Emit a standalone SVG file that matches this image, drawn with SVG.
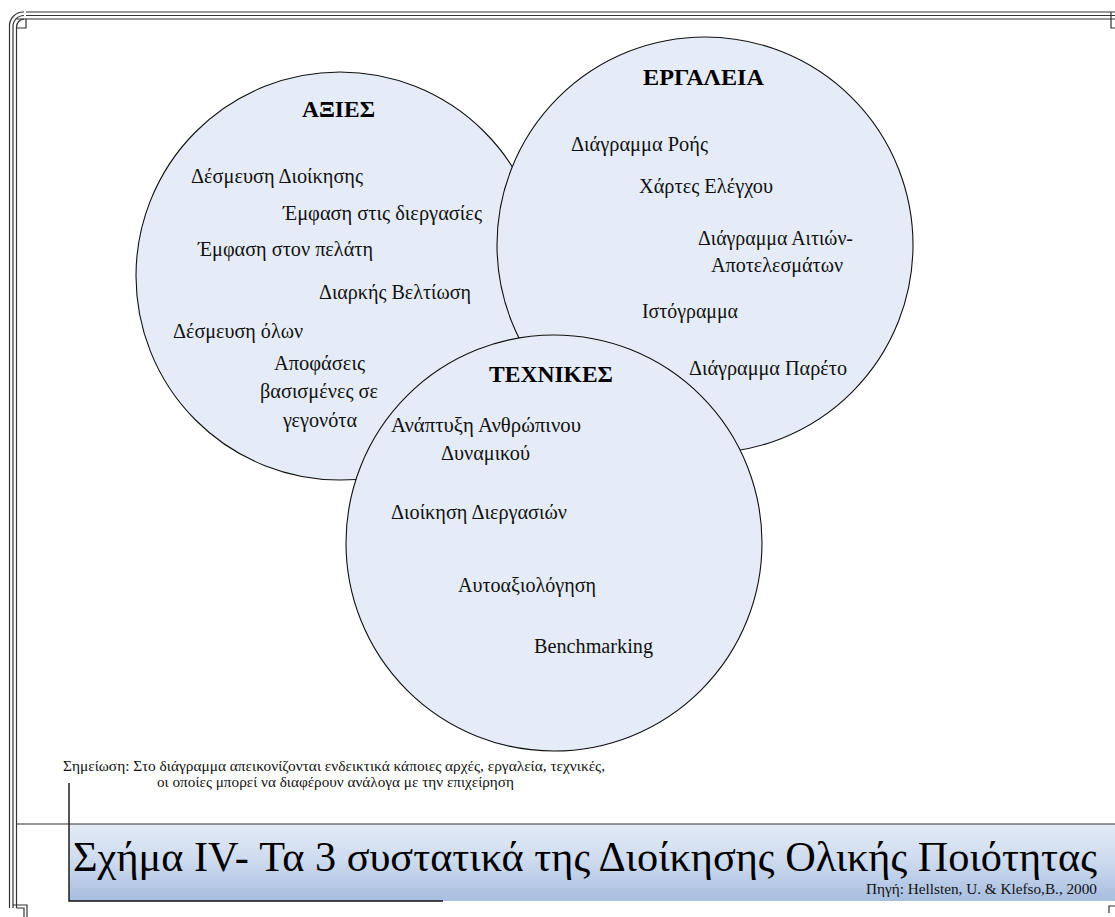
<svg xmlns="http://www.w3.org/2000/svg" width="1115" height="917" viewBox="0 0 1115 917">
  <style>
    .circle { fill: #E5ECF7; stroke: #111; stroke-width: 1.1; }
    .head { font-family: "Liberation Serif", "DejaVu Serif", serif; font-weight: bold; font-size: 23.5px; fill: #000; }
    .item { font-family: "Liberation Serif", "DejaVu Serif", serif; font-size: 20px; fill: #111; }
    .frame { fill: none; stroke: #333; stroke-width: 1.2; }
    .note { font-family: "Liberation Serif", "DejaVu Serif", serif; font-size: 15.3px; fill: #111; }
  </style>
  <defs>
    <linearGradient id="titleFill" x1="0" y1="0" x2="0" y2="1">
      <stop offset="0" stop-color="#E4ECF7"/>
      <stop offset="0.45" stop-color="#CFDCEF"/>
      <stop offset="1" stop-color="#A7BEE0"/>
    </linearGradient>
  </defs>

  <rect width="1115" height="917" fill="#fff"/>

  <!-- page frame: triple rule along the top and left edges -->
  <g id="page-frame" class="frame">
    <path d="M26 12 H1115 M26 15.5 H1115 M26 19 H1115"/>
    <path d="M9.5 27 V908 M13 27 V908 M16.5 27 V908"/>
    <path d="M9.5 27 A14 14 0 0 1 24 12 M13 27 A11 11 0 0 1 24 15.5 M16.5 27 A8 8 0 0 1 24 19"/>
    <path d="M16.5 19 H26 V28 H16.5"/>
    <path d="M1111 12 V28 H1115"/>
    <path d="M13 905 H27 V917 M16.5 908 H24 V917"/>
    <path d="M1109 913 V906 H1115"/>
  </g>

  <!-- three overlapping circles -->
  <g id="values">
    <circle class="circle" cx="340" cy="276" r="204"/>
    <text class="head" x="302" y="117" textLength="73" lengthAdjust="spacingAndGlyphs">ΑΞΙΕΣ</text>
    <text class="item" x="191" y="183" textLength="172" lengthAdjust="spacingAndGlyphs">Δέσμευση Διοίκησης</text>
    <text class="item" x="283" y="220" textLength="199" lengthAdjust="spacingAndGlyphs">Έμφαση στις διεργασίες</text>
    <text class="item" x="198" y="256" textLength="175" lengthAdjust="spacingAndGlyphs">Έμφαση στον πελάτη</text>
    <text class="item" x="319" y="299" textLength="152" lengthAdjust="spacingAndGlyphs">Διαρκής Βελτίωση</text>
    <text class="item" x="173" y="338" textLength="130" lengthAdjust="spacingAndGlyphs">Δέσμευση όλων</text>
    <text class="item" x="274" y="370" textLength="91" lengthAdjust="spacingAndGlyphs">Αποφάσεις</text>
    <text class="item" x="260" y="398" textLength="118" lengthAdjust="spacingAndGlyphs">βασισμένες σε</text>
    <text class="item" x="283" y="427" textLength="74" lengthAdjust="spacingAndGlyphs">γεγονότα</text>
  </g>

  <g id="tools">
    <circle class="circle" cx="705" cy="245" r="208"/>
    <text class="head" x="643" y="85" textLength="121" lengthAdjust="spacingAndGlyphs">ΕΡΓΑΛΕΙΑ</text>
    <text class="item" x="571" y="151" textLength="137" lengthAdjust="spacingAndGlyphs">Διάγραμμα Ροής</text>
    <text class="item" x="639" y="193" textLength="134" lengthAdjust="spacingAndGlyphs">Χάρτες Ελέγχου</text>
    <text class="item" x="698" y="245" textLength="155" lengthAdjust="spacingAndGlyphs">Διάγραμμα Αιτιών-</text>
    <text class="item" x="711" y="272" textLength="132" lengthAdjust="spacingAndGlyphs">Αποτελεσμάτων</text>
    <text class="item" x="642" y="318" textLength="96" lengthAdjust="spacingAndGlyphs">Ιστόγραμμα</text>
    <text class="item" x="689" y="375" textLength="158" lengthAdjust="spacingAndGlyphs">Διάγραμμα Παρέτο</text>
  </g>

  <g id="techniques">
    <circle class="circle" cx="554" cy="543" r="208"/>
    <text class="head" x="489" y="382" textLength="124" lengthAdjust="spacingAndGlyphs">ΤΕΧΝΙΚΕΣ</text>
    <text class="item" x="391" y="432" textLength="190" lengthAdjust="spacingAndGlyphs">Ανάπτυξη Ανθρώπινου</text>
    <text class="item" x="441" y="460" textLength="89" lengthAdjust="spacingAndGlyphs">Δυναμικού</text>
    <text class="item" x="391" y="519" textLength="176" lengthAdjust="spacingAndGlyphs">Διοίκηση Διεργασιών</text>
    <text class="item" x="458" y="592" textLength="138" lengthAdjust="spacingAndGlyphs">Αυτοαξιολόγηση</text>
    <text class="item" x="534" y="653" textLength="119" lengthAdjust="spacingAndGlyphs">Benchmarking</text>
  </g>

  <!-- no connectors: the circles only overlap -->
  <g id="connectors"/>

  <g id="note">
    <text class="note" x="63" y="771" textLength="542" lengthAdjust="spacingAndGlyphs">Σημείωση: Στο διάγραμμα απεικονίζονται ενδεικτικά κάποιες αρχές, εργαλεία,  τεχνικές,</text>
    <text class="note" x="157" y="787" textLength="357" lengthAdjust="spacingAndGlyphs">οι οποίες μπορεί να διαφέρουν ανάλογα με την επιχείρηση</text>
  </g>

  <!-- caption bar -->
  <g id="caption">
    <rect x="69" y="824" width="1046" height="77" fill="url(#titleFill)"/>
    <path d="M16.5 824 H1115" stroke="#333" stroke-width="1.2" fill="none"/>
    <path d="M69 783 V901 H443" stroke="#111" stroke-width="1.4" fill="none"/>
    <text x="73" y="871" font-family="'Liberation Serif', 'DejaVu Serif', serif" font-size="42" fill="#000" textLength="1024" lengthAdjust="spacingAndGlyphs">Σχήμα IV- Τα 3 συστατικά της Διοίκησης Ολικής Ποιότητας</text>
    <text x="866" y="894" font-family="'Liberation Serif', 'DejaVu Serif', serif" font-size="14.5" fill="#111" textLength="231" lengthAdjust="spacingAndGlyphs">Πηγή: Hellsten, U. &amp; Klefso,B., 2000</text>
  </g>
</svg>
